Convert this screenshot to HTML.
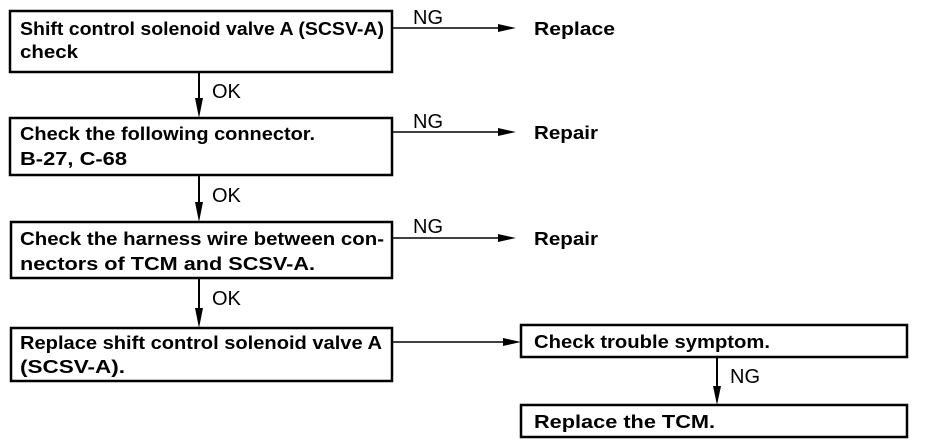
<!DOCTYPE html>
<html><head><meta charset="utf-8"><style>
html,body{margin:0;padding:0;background:#fff;}
svg{display:block;}
text{font-family:"Liberation Sans",Arial,sans-serif;font-weight:bold;fill:#000;}
</style></head><body>
<svg width="928" height="446" viewBox="0 0 928 446" xmlns="http://www.w3.org/2000/svg">
<g fill="none" stroke="#000" stroke-width="2.5">
<rect x="10" y="11" width="382" height="61"/>
<rect x="10" y="118" width="382" height="57"/>
<rect x="11" y="222" width="381" height="56"/>
<rect x="11" y="328" width="381" height="53"/>
<rect x="521" y="325" width="386" height="32"/>
<rect x="521" y="405" width="386" height="32"/>
</g>
<g stroke="#000" stroke-width="1.5">
<line x1="392" y1="28" x2="500" y2="28"/>
<line x1="392" y1="132" x2="500" y2="132"/>
<line x1="392" y1="238" x2="500" y2="238"/>
<line x1="392" y1="342" x2="505" y2="342"/>
</g>
<g stroke="#000" stroke-width="2">
<line x1="199" y1="72" x2="199" y2="100"/>
<line x1="199" y1="175" x2="199" y2="205"/>
<line x1="199" y1="278" x2="199" y2="310"/>
<line x1="717" y1="357" x2="717" y2="388"/>
</g>
<g fill="#000">
<path d="M498,24 L516,28 L498,32 Z"/>
<path d="M498,128 L516,132 L498,136 Z"/>
<path d="M498,234 L516,238 L498,242 Z"/>
<path d="M503,338 L521,342 L503,346 Z"/>
<path d="M195,98 L199,118 L203,98 Z"/>
<path d="M195,202 L199,222 L203,202 Z"/>
<path d="M195,308 L199,328 L203,308 Z"/>
<path d="M713,386 L717,405 L721,386 Z"/>
</g>
<g font-size="18" lengthAdjust="spacingAndGlyphs">
<text x="20" y="35" textLength="364" lengthAdjust="spacingAndGlyphs">Shift control solenoid valve A (SCSV-A)</text>
<text x="20" y="58" textLength="58" lengthAdjust="spacingAndGlyphs">check</text>
<text x="20" y="140" textLength="295" lengthAdjust="spacingAndGlyphs">Check the following connector.</text>
<text x="20" y="165" textLength="107" lengthAdjust="spacingAndGlyphs">B-27, C-68</text>
<text x="20" y="245" textLength="364" lengthAdjust="spacingAndGlyphs">Check the harness wire between con-</text>
<text x="20" y="270" textLength="295" lengthAdjust="spacingAndGlyphs">nectors of TCM and SCSV-A.</text>
<text x="20" y="349" textLength="362" lengthAdjust="spacingAndGlyphs">Replace shift control solenoid valve A</text>
<text x="20" y="373" textLength="105" lengthAdjust="spacingAndGlyphs">(SCSV-A).</text>
<text x="534" y="348" textLength="236" lengthAdjust="spacingAndGlyphs">Check trouble symptom.</text>
<text x="534" y="428" textLength="181" lengthAdjust="spacingAndGlyphs">Replace the TCM.</text>
<text x="534" y="35" textLength="81" lengthAdjust="spacingAndGlyphs">Replace</text>
<text x="534" y="139" textLength="64" lengthAdjust="spacingAndGlyphs">Repair</text>
<text x="534" y="245" textLength="64" lengthAdjust="spacingAndGlyphs">Repair</text>
</g>
<g font-size="20">
<text x="413" y="24" style="font-weight:normal">NG</text>
<text x="413" y="128" style="font-weight:normal">NG</text>
<text x="413" y="233" style="font-weight:normal">NG</text>
<text x="212" y="98" style="font-weight:normal">OK</text>
<text x="212" y="202" style="font-weight:normal">OK</text>
<text x="212" y="305" style="font-weight:normal">OK</text>
<text x="730" y="383" style="font-weight:normal">NG</text>
</g>
</svg>
</body></html>
